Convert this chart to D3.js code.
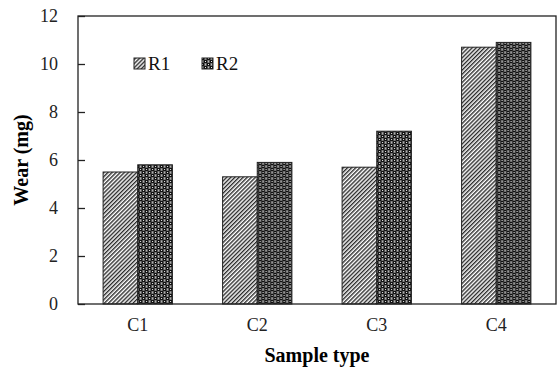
<!DOCTYPE html>
<html>
<head>
<meta charset="utf-8">
<script src="https://cdn.jsdelivr.net/npm/d3@7"></script>
</head>
<body style="margin:0">
<svg id="chart" width="558" height="369"></svg>
<script>
const categories = ["C1", "C2", "C3", "C4"];
const seriesNames = ["R1", "R2"];
const R1 = [5.5, 5.3, 5.7, 10.7];
const R2 = [5.8, 5.9, 7.2, 10.9];
const yTicks = [0, 2, 4, 6, 8, 10, 12];

const FONT = '"Liberation Serif"';
const svg = d3.select("#chart");
const margin = { left: 78, top: 16, right: 2, bottom: 65 };
const W = 558, H = 369;
const x0 = margin.left, x1 = W - margin.right, y0 = H - margin.bottom, y1 = margin.top;

const x = d3.scaleBand().domain(categories).range([x0, x1]).paddingInner(0.42).paddingOuter(0.21);
const xs = d3.scaleBand().domain(seriesNames).range([0, x.bandwidth()]);
const y = d3.scaleLinear().domain([0, 12]).range([y0, y1]);

// axis titles first, mirroring the structure that rendered serif bold in testing
const xt = svg.append("text").attr("x", 0).attr("y", 362).attr("font-size", 20)
  .text("Sample type");
xt.attr("font-family", FONT).attr("font-weight", "bold");
const xtw = xt.node().getComputedTextLength() || 105;
xt.attr("x", (x0 + x1) / 2 - xtw / 2);

const yt = svg.append("text").attr("x", 0).attr("y", 0).attr("font-size", 20)
  .text("Wear (mg)");
yt.attr("font-family", FONT).attr("font-weight", "bold");
const ytw = yt.node().getComputedTextLength() || 88;
yt.attr("transform", `translate(28,${(y0 + y1) / 2 + ytw / 2}) rotate(-90)`);

// patterns
const defs = svg.append("defs");
const p1 = defs.append("pattern").attr("id", "pR1").attr("patternUnits", "userSpaceOnUse")
  .attr("width", 2.9).attr("height", 2.9).attr("patternTransform", "rotate(45)");
p1.append("rect").attr("width", 2.9).attr("height", 2.9).attr("fill", "#fff");
p1.append("rect").attr("x", 0).attr("width", 1.4).attr("height", 2.9).attr("fill", "#2a2a2a");

const p2 = defs.append("pattern").attr("id", "pR2").attr("patternUnits", "userSpaceOnUse")
  .attr("width", 6).attr("height", 6);
p2.append("rect").attr("width", 6).attr("height", 6).attr("fill", "#555");
p2.append("rect").attr("x", 0).attr("y", 0).attr("width", 3).attr("height", 3).attr("fill", "#111");
p2.append("rect").attr("x", 3).attr("y", 3).attr("width", 3).attr("height", 3).attr("fill", "#111");
p2.append("rect").attr("x", 1).attr("y", 1).attr("width", 1).attr("height", 1).attr("fill", "#eee");
p2.append("rect").attr("x", 4).attr("y", 4).attr("width", 1).attr("height", 1).attr("fill", "#eee");
p2.append("rect").attr("x", 4).attr("y", 0.5).attr("width", 1).attr("height", 2).attr("fill", "#bbb");
p2.append("rect").attr("x", 1).attr("y", 3.5).attr("width", 1).attr("height", 2).attr("fill", "#bbb");

const fills = { R1: "url(#pR1)", R2: "url(#pR2)" };
const data = categories.map((c, i) => ({ c, vals: [{ s: "R1", v: R1[i] }, { s: "R2", v: R2[i] }] }));

// bars
const g = svg.append("g");
g.selectAll("g.cat").data(data).join("g").attr("class", "cat")
  .attr("transform", d => `translate(${x(d.c)},0)`)
  .selectAll("rect").data(d => d.vals).join("rect")
  .attr("x", d => xs(d.s)).attr("width", xs.bandwidth())
  .attr("y", d => y(d.v)).attr("height", d => y(0) - y(d.v))
  .attr("fill", d => fills[d.s]).attr("stroke", "#222").attr("stroke-width", 1);

// frame
svg.append("rect").attr("x", x0).attr("y", y1).attr("width", x1 - x0).attr("height", y0 - y1)
  .attr("fill", "none").attr("stroke", "#222").attr("stroke-width", 1.3);

// y axis (inward ticks)
const yAxis = d3.axisLeft(y).tickValues(yTicks).tickSizeInner(-7).tickSizeOuter(0).tickPadding(20);
const ya = svg.append("g").attr("transform", `translate(${x0},0)`).call(yAxis)
  .attr("font-family", FONT).attr("font-size", 18);
ya.select(".domain").remove();
ya.selectAll(".tick line").attr("stroke", "#222").attr("stroke-width", 1.3);
ya.selectAll(".tick text").attr("font-family", FONT).attr("font-size", 18).attr("fill", "#222");

// x axis labels
const xAxis = d3.axisBottom(x).tickSize(0).tickPadding(14);
const xa = svg.append("g").attr("transform", `translate(0,${y0})`).call(xAxis)
  .attr("font-family", FONT).attr("font-size", 18);
xa.select(".domain").remove();
xa.selectAll(".tick text").attr("font-family", FONT).attr("font-size", 18).attr("fill", "#222");

// legend
const legendX = [134, 202];
const lg = svg.append("g");
seriesNames.forEach((s, i) => {
  lg.append("rect").attr("x", legendX[i]).attr("y", 58).attr("width", 11).attr("height", 11)
    .attr("fill", fills[s]).attr("stroke", "#222").attr("stroke-width", 1);
  lg.append("text").attr("x", legendX[i] + 14).attr("y", 69.5)
    .attr("font-family", FONT).attr("font-size", 19).attr("fill", "#111").text(s);
});
</script>
</body>
</html>
